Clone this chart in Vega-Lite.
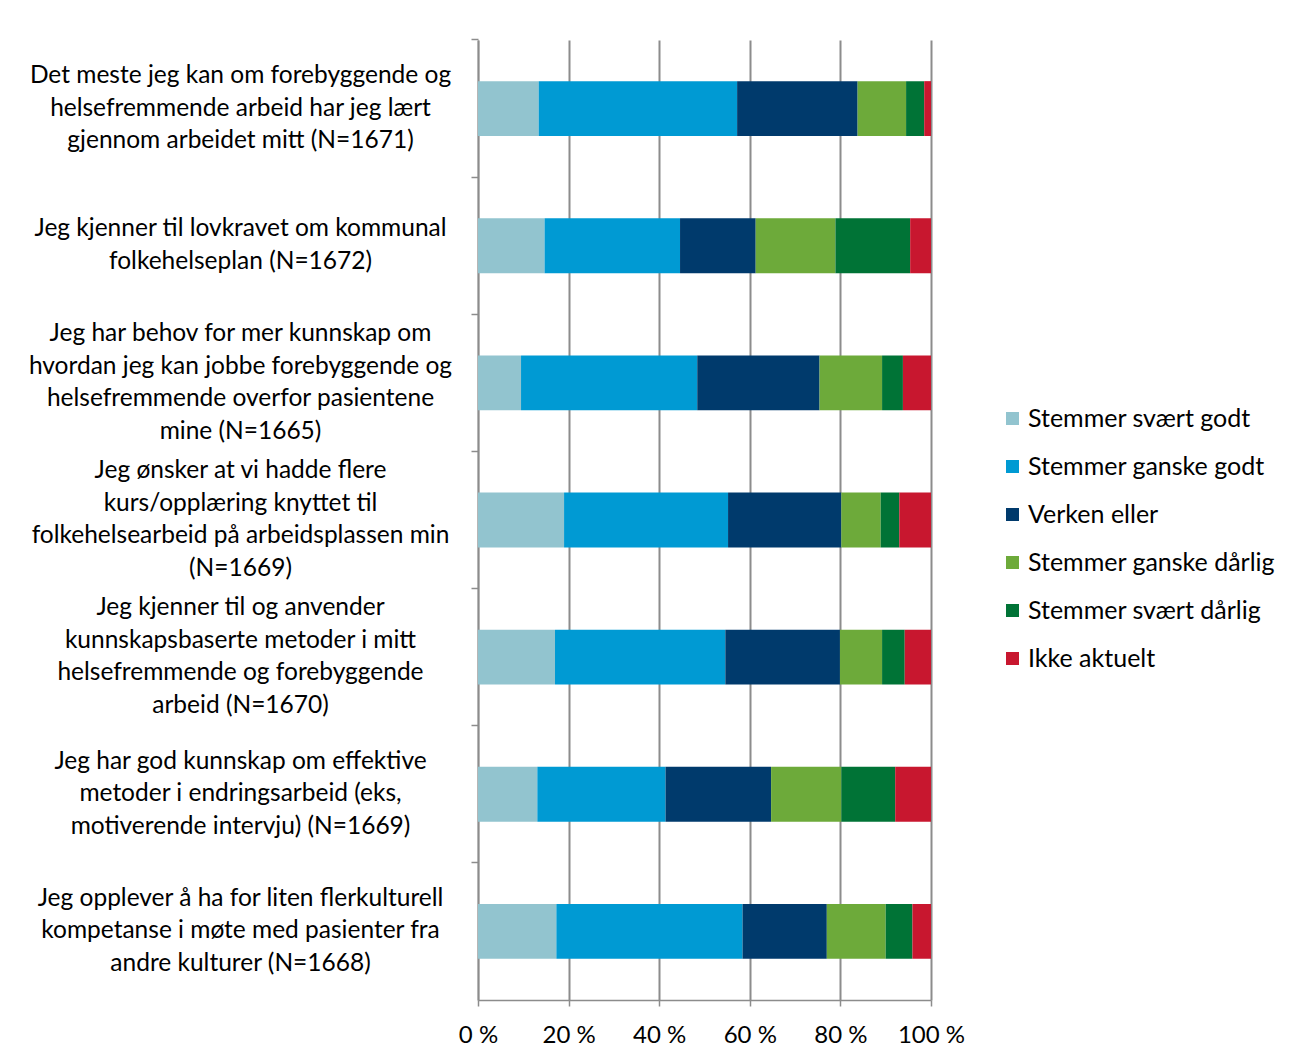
{
  "$schema": "https://vega.github.io/schema/vega-lite/v6.json",
  "width": 453,
  "height": 960,
  "autosize": {"type": "none"},
  "padding": {"left": 478, "top": 40, "right": 372, "bottom": 61},
  "background": "white",
  "config": {
    "font": "Lato",
    "view": {"stroke": null},
    "axis": {"labelColor": "#000000", "labelFont": "Lato"}
  },
  "data": {
    "values": [
      {"q": "Det meste jeg kan om forebyggende og|helsefremmende arbeid har jeg lært|gjennom arbeidet mitt (N=1671)", "svar": "Stemmer svært godt", "k": 1, "pct": 13.4},
      {"q": "Det meste jeg kan om forebyggende og|helsefremmende arbeid har jeg lært|gjennom arbeidet mitt (N=1671)", "svar": "Stemmer ganske godt", "k": 2, "pct": 43.8},
      {"q": "Det meste jeg kan om forebyggende og|helsefremmende arbeid har jeg lært|gjennom arbeidet mitt (N=1671)", "svar": "Verken eller", "k": 3, "pct": 26.6},
      {"q": "Det meste jeg kan om forebyggende og|helsefremmende arbeid har jeg lært|gjennom arbeidet mitt (N=1671)", "svar": "Stemmer ganske dårlig", "k": 4, "pct": 10.7},
      {"q": "Det meste jeg kan om forebyggende og|helsefremmende arbeid har jeg lært|gjennom arbeidet mitt (N=1671)", "svar": "Stemmer svært dårlig", "k": 5, "pct": 4.0},
      {"q": "Det meste jeg kan om forebyggende og|helsefremmende arbeid har jeg lært|gjennom arbeidet mitt (N=1671)", "svar": "Ikke aktuelt", "k": 6, "pct": 1.5},

      {"q": "Jeg kjenner til lovkravet om kommunal|folkehelseplan (N=1672)", "svar": "Stemmer svært godt", "k": 1, "pct": 14.7},
      {"q": "Jeg kjenner til lovkravet om kommunal|folkehelseplan (N=1672)", "svar": "Stemmer ganske godt", "k": 2, "pct": 29.9},
      {"q": "Jeg kjenner til lovkravet om kommunal|folkehelseplan (N=1672)", "svar": "Verken eller", "k": 3, "pct": 16.7},
      {"q": "Jeg kjenner til lovkravet om kommunal|folkehelseplan (N=1672)", "svar": "Stemmer ganske dårlig", "k": 4, "pct": 17.6},
      {"q": "Jeg kjenner til lovkravet om kommunal|folkehelseplan (N=1672)", "svar": "Stemmer svært dårlig", "k": 5, "pct": 16.5},
      {"q": "Jeg kjenner til lovkravet om kommunal|folkehelseplan (N=1672)", "svar": "Ikke aktuelt", "k": 6, "pct": 4.6},

      {"q": "Jeg har behov for mer kunnskap om|hvordan jeg kan jobbe forebyggende og|helsefremmende overfor pasientene|mine (N=1665)", "svar": "Stemmer svært godt", "k": 1, "pct": 9.5},
      {"q": "Jeg har behov for mer kunnskap om|hvordan jeg kan jobbe forebyggende og|helsefremmende overfor pasientene|mine (N=1665)", "svar": "Stemmer ganske godt", "k": 2, "pct": 38.9},
      {"q": "Jeg har behov for mer kunnskap om|hvordan jeg kan jobbe forebyggende og|helsefremmende overfor pasientene|mine (N=1665)", "svar": "Verken eller", "k": 3, "pct": 27.0},
      {"q": "Jeg har behov for mer kunnskap om|hvordan jeg kan jobbe forebyggende og|helsefremmende overfor pasientene|mine (N=1665)", "svar": "Stemmer ganske dårlig", "k": 4, "pct": 13.8},
      {"q": "Jeg har behov for mer kunnskap om|hvordan jeg kan jobbe forebyggende og|helsefremmende overfor pasientene|mine (N=1665)", "svar": "Stemmer svært dårlig", "k": 5, "pct": 4.6},
      {"q": "Jeg har behov for mer kunnskap om|hvordan jeg kan jobbe forebyggende og|helsefremmende overfor pasientene|mine (N=1665)", "svar": "Ikke aktuelt", "k": 6, "pct": 6.2},

      {"q": "Jeg ønsker at vi hadde flere|kurs/opplæring knyttet til|folkehelsearbeid på arbeidsplassen min|(N=1669)", "svar": "Stemmer svært godt", "k": 1, "pct": 19.0},
      {"q": "Jeg ønsker at vi hadde flere|kurs/opplæring knyttet til|folkehelsearbeid på arbeidsplassen min|(N=1669)", "svar": "Stemmer ganske godt", "k": 2, "pct": 36.2},
      {"q": "Jeg ønsker at vi hadde flere|kurs/opplæring knyttet til|folkehelsearbeid på arbeidsplassen min|(N=1669)", "svar": "Verken eller", "k": 3, "pct": 25.0},
      {"q": "Jeg ønsker at vi hadde flere|kurs/opplæring knyttet til|folkehelsearbeid på arbeidsplassen min|(N=1669)", "svar": "Stemmer ganske dårlig", "k": 4, "pct": 8.7},
      {"q": "Jeg ønsker at vi hadde flere|kurs/opplæring knyttet til|folkehelsearbeid på arbeidsplassen min|(N=1669)", "svar": "Stemmer svært dårlig", "k": 5, "pct": 4.1},
      {"q": "Jeg ønsker at vi hadde flere|kurs/opplæring knyttet til|folkehelsearbeid på arbeidsplassen min|(N=1669)", "svar": "Ikke aktuelt", "k": 6, "pct": 7.0},

      {"q": "Jeg kjenner til og anvender|kunnskapsbaserte metoder i mitt|helsefremmende og forebyggende|arbeid (N=1670)", "svar": "Stemmer svært godt", "k": 1, "pct": 17.0},
      {"q": "Jeg kjenner til og anvender|kunnskapsbaserte metoder i mitt|helsefremmende og forebyggende|arbeid (N=1670)", "svar": "Stemmer ganske godt", "k": 2, "pct": 37.6},
      {"q": "Jeg kjenner til og anvender|kunnskapsbaserte metoder i mitt|helsefremmende og forebyggende|arbeid (N=1670)", "svar": "Verken eller", "k": 3, "pct": 25.3},
      {"q": "Jeg kjenner til og anvender|kunnskapsbaserte metoder i mitt|helsefremmende og forebyggende|arbeid (N=1670)", "svar": "Stemmer ganske dårlig", "k": 4, "pct": 9.3},
      {"q": "Jeg kjenner til og anvender|kunnskapsbaserte metoder i mitt|helsefremmende og forebyggende|arbeid (N=1670)", "svar": "Stemmer svært dårlig", "k": 5, "pct": 5.0},
      {"q": "Jeg kjenner til og anvender|kunnskapsbaserte metoder i mitt|helsefremmende og forebyggende|arbeid (N=1670)", "svar": "Ikke aktuelt", "k": 6, "pct": 5.8},

      {"q": "Jeg har god kunnskap om effektive|metoder i endringsarbeid (eks,|motiverende intervju) (N=1669)", "svar": "Stemmer svært godt", "k": 1, "pct": 13.1},
      {"q": "Jeg har god kunnskap om effektive|metoder i endringsarbeid (eks,|motiverende intervju) (N=1669)", "svar": "Stemmer ganske godt", "k": 2, "pct": 28.3},
      {"q": "Jeg har god kunnskap om effektive|metoder i endringsarbeid (eks,|motiverende intervju) (N=1669)", "svar": "Verken eller", "k": 3, "pct": 23.3},
      {"q": "Jeg har god kunnskap om effektive|metoder i endringsarbeid (eks,|motiverende intervju) (N=1669)", "svar": "Stemmer ganske dårlig", "k": 4, "pct": 15.5},
      {"q": "Jeg har god kunnskap om effektive|metoder i endringsarbeid (eks,|motiverende intervju) (N=1669)", "svar": "Stemmer svært dårlig", "k": 5, "pct": 11.9},
      {"q": "Jeg har god kunnskap om effektive|metoder i endringsarbeid (eks,|motiverende intervju) (N=1669)", "svar": "Ikke aktuelt", "k": 6, "pct": 7.9},

      {"q": "Jeg opplever å ha for liten flerkulturell|kompetanse i møte med pasienter fra|andre kulturer (N=1668)", "svar": "Stemmer svært godt", "k": 1, "pct": 17.3},
      {"q": "Jeg opplever å ha for liten flerkulturell|kompetanse i møte med pasienter fra|andre kulturer (N=1668)", "svar": "Stemmer ganske godt", "k": 2, "pct": 41.1},
      {"q": "Jeg opplever å ha for liten flerkulturell|kompetanse i møte med pasienter fra|andre kulturer (N=1668)", "svar": "Verken eller", "k": 3, "pct": 18.6},
      {"q": "Jeg opplever å ha for liten flerkulturell|kompetanse i møte med pasienter fra|andre kulturer (N=1668)", "svar": "Stemmer ganske dårlig", "k": 4, "pct": 13.0},
      {"q": "Jeg opplever å ha for liten flerkulturell|kompetanse i møte med pasienter fra|andre kulturer (N=1668)", "svar": "Stemmer svært dårlig", "k": 5, "pct": 5.9},
      {"q": "Jeg opplever å ha for liten flerkulturell|kompetanse i møte med pasienter fra|andre kulturer (N=1668)", "svar": "Ikke aktuelt", "k": 6, "pct": 4.1}
    ]
  },
  "mark": {"type": "bar"},
  "encoding": {
    "y": {
      "field": "q",
      "type": "nominal",
      "sort": null,
      "title": null,
      "scale": {"paddingInner": 0.6, "paddingOuter": 0.3},
      "axis": {
        "labelExpr": "split(datum.value, '|')",
        "labelAlign": "center",
        "labelBaseline": "middle",
        "labelPadding": 231,
        "labelFontSize": 24.5,
        "labelLineHeight": 32.5,
        "labelLimit": 500,
        "labelOffset": {
          "condition": [
            {"test": "length(split(datum.value, '|')) == 2", "value": -16.25},
            {"test": "length(split(datum.value, '|')) == 4", "value": -48.75}
          ],
          "value": -32.5
        },
        "bandPosition": -0.75,
        "ticks": true,
        "tickSize": 7,
        "tickColor": "#8c8c8c",
        "tickWidth": 1.5,
        "domainColor": "#8c8c8c",
        "domainWidth": 1.5,
        "grid": false
      }
    },
    "x": {
      "field": "pct",
      "type": "quantitative",
      "stack": "normalize",
      "title": null,
      "scale": {"domain": [0, 1], "nice": false},
      "axis": {
        "values": [0, 0.2, 0.4, 0.6, 0.8, 1],
        "labelExpr": "format(datum.value * 100, 'd') + ' %'",
        "labelFontSize": 24,
        "labelPadding": 17,
        "labelFlush": false,
        "labelOverlap": false,
        "grid": true,
        "gridColor": "#8c8c8c",
        "gridWidth": 2,
        "tickColor": "#8c8c8c",
        "tickSize": 6,
        "tickWidth": 1.5,
        "domainColor": "#8c8c8c",
        "domainWidth": 1.5
      }
    },
    "order": {"field": "k", "type": "quantitative"},
    "color": {
      "field": "svar",
      "type": "nominal",
      "title": null,
      "scale": {
        "domain": ["Stemmer svært godt", "Stemmer ganske godt", "Verken eller", "Stemmer ganske dårlig", "Stemmer svært dårlig", "Ikke aktuelt"],
        "range": ["#92C4CF", "#009AD3", "#003A6C", "#6DAA3A", "#007336", "#C8172F"]
      },
      "legend": {
        "orient": "none",
        "legendX": 522,
        "legendY": 366,
        "padding": 0,
        "symbolType": "square",
        "symbolSize": 169,
        "symbolStrokeWidth": 0,
        "labelFontSize": 25,
        "labelColor": "#000000",
        "labelLimit": 400,
        "rowPadding": 22,
        "labelOffset": 3
      }
    }
  }
}
